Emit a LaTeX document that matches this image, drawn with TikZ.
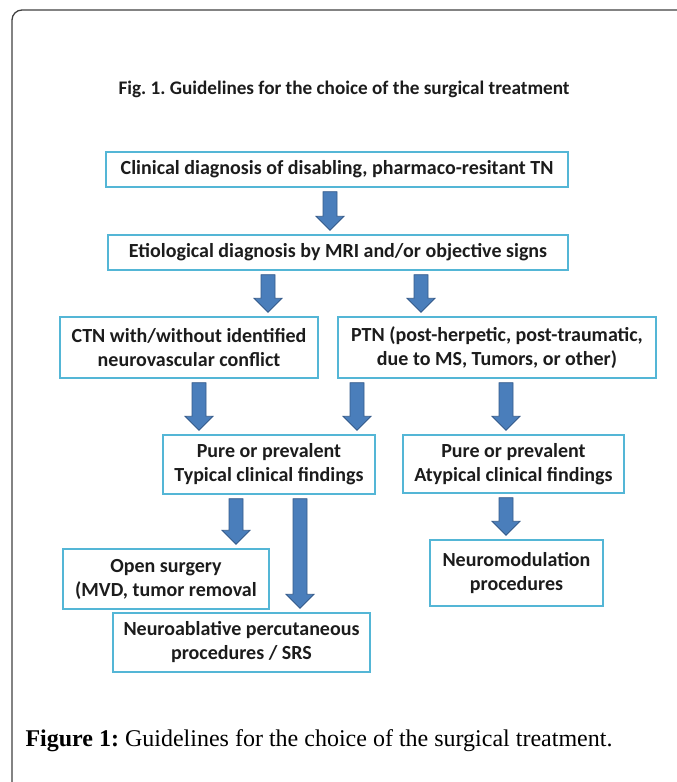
\documentclass[tikz,border=0pt]{standalone}
\usepackage{fontspec}
\setmainfont{Liberation Serif}
\newfontfamily\boxfont{Carlito}
\usepackage{tikz}
\usetikzlibrary{positioning,calc}
\definecolor{boxline}{RGB}{84,182,214}
\definecolor{arrowfill}{RGB}{74,126,187}
\definecolor{arrowline}{RGB}{52,90,138}
\definecolor{inktext}{RGB}{28,28,28}
\frenchspacing
\tikzset{
	flowbox/.style={
		rectangle,
		draw=boxline, line width=1.4pt,
		fill=white,
		text=inktext,
		font=\boxfont\bfseries\fontsize{20}{24}\selectfont,
		align=center,
		inner sep=2pt,
	},
	fatarrow/.style={
		fill=arrowfill,
		draw=arrowline, line width=0.8pt,
	},
}
% block arrow at x=#1 from the bottom of node #2 down to the top of node #3
\newcommand{\fatarrow}[3]{%
	\path[fatarrow] let \p1=(#2.south), \p2=(#3.north) in
	(#1pt-7pt,\y1-4pt) -- (#1pt+7pt,\y1-4pt) -- (#1pt+7pt,\y2+18pt)
	-- (#1pt+14pt,\y2+18pt) -- (#1pt,\y2+4pt) -- (#1pt-14pt,\y2+18pt)
	-- (#1pt-7pt,\y2+18pt) -- cycle;
}

\begin{document}
\begin{tikzpicture}[x=1pt,y=-1pt]
	\useasboundingbox (0,0) rectangle (677,782);
	
	% outer frame (runs off the right and bottom edge)
	\draw[black!75, line width=1.3pt, rounded corners=10pt]
	(12,782) -- (12,10) -- (677,10);
	
	% heading
	\node[anchor=base west, text=inktext,
	font=\boxfont\bfseries\fontsize{19.2}{22}\selectfont] (TITLE) at (115,94)
	{Fig. 1. Guidelines for the choice of the surgical treatment};
	
	% first two levels
	\node[flowbox, minimum width=462pt, minimum height=35pt] (DIAG) at (337,169.5)
	{Clinical diagnosis of disabling, pharmaco-resitant TN};
	\node[flowbox, minimum width=460pt, minimum height=35pt] (ETIO) at (338,252.5)
	{Etiological diagnosis by MRI and/or objective signs};
	
	% classic vs. secondary TN
	\node[flowbox, minimum width=258pt, minimum height=61pt] (CTN) at (189,347.5)
	{CTN with/without identified\\ neurovascular conflict};
	\node[flowbox, minimum width=318pt, minimum height=61pt] (PTN) at (497,347.5)
	{PTN (post-herpetic, post-traumatic,\\ due to MS, Tumors, or other)};
	
	% clinical findings
	\node[flowbox, minimum width=212pt, minimum height=59pt] (TYPICAL) at (269,464.5)
	{Pure or prevalent\\ Typical clinical findings};
	\node[flowbox, minimum width=221pt, minimum height=58pt] (ATYPICAL) at (513.5,464)
	{Pure or prevalent\\ Atypical clinical findings};
	
	% treatments
	\node[flowbox, minimum width=206pt, minimum height=60pt] (OPEN) at (166,579)
	{Open surgery\\ (MVD, tumor removal};
	\node[flowbox, minimum width=257pt, minimum height=59pt] (ABLATIVE) at (241.5,642.5)
	{Neuroablative percutaneous\\ procedures / SRS};
	\node[flowbox, minimum width=173pt, minimum height=66pt] (NEUROMOD) at (516.5,573)
	{Neuromodulation\\ procedures};
	
	% block arrows
	\fatarrow{330}{DIAG}{ETIO}
	\fatarrow{268}{ETIO}{CTN}
	\fatarrow{421}{ETIO}{PTN}
	\fatarrow{199}{CTN}{TYPICAL}
	\fatarrow{357}{PTN}{TYPICAL}
	\fatarrow{506}{PTN}{ATYPICAL}
	\fatarrow{236}{TYPICAL}{OPEN}
	\fatarrow{300}{TYPICAL}{ABLATIVE}
	\fatarrow{506}{ATYPICAL}{NEUROMOD}
	
	% caption
	\node[anchor=base west, font=\fontsize{24}{27}\selectfont] (CAPTION) at (22,746)
	{\textbf{Figure 1:} Guidelines for the choice of the surgical treatment.};
	
\end{tikzpicture}
\end{document}
